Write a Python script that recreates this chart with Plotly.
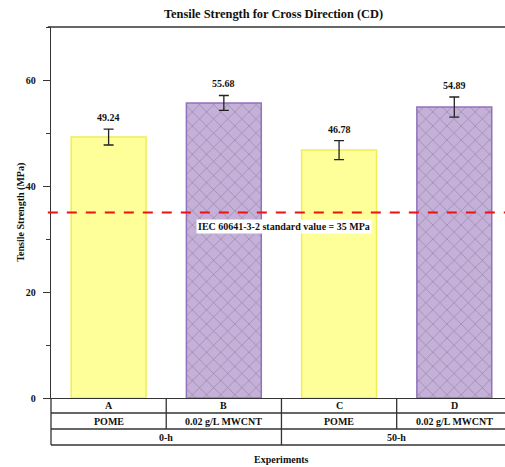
import plotly.graph_objects as go

# Tensile strength (CD) per experiment
codes = ["A", "B", "C", "D"]
materials = ["POME", "0.02 g/L MWCNT", "POME", "0.02 g/L MWCNT"]
ages = ["0-h", "50-h"]
strength = [49.24, 55.68, 46.78, 54.89]
strength_err = [1.5, 1.4, 1.8, 1.9]
standard_value = 35

FONT = "Liberation Serif"
AXIS = "#333333"
YELLOW = "#FFFF99"
YELLOW_EDGE = "#EEEE55"
PURPLE = "#C4B0D8"
PURPLE_HATCH = "#9C84C2"
PURPLE_EDGE = "#9272BC"

x_pos = list(range(len(codes)))
x_lo, x_hi = -0.5, 3.44

def px(xd):
    return (xd - x_lo) / (x_hi - x_lo)

is_cnt = ["MWCNT" in m for m in materials]

fig = go.Figure()
fig.add_trace(go.Bar(
    x=x_pos, y=strength, width=0.65,
    marker=dict(
        color=[PURPLE if c else YELLOW for c in is_cnt],
        line=dict(color=[PURPLE_EDGE if c else YELLOW_EDGE for c in is_cnt], width=1.5),
        pattern=dict(
            shape=["x" if c else "" for c in is_cnt],
            fgcolor=PURPLE_HATCH,
            bgcolor=[PURPLE if c else YELLOW for c in is_cnt],
            size=10, solidity=0.1,
        ),
    ),
    error_y=dict(type="data", array=strength_err, color="#222222", thickness=1.3, width=5),
    showlegend=False,
))

annotations = []
# value labels above the error bars
for x, v, e in zip(x_pos, strength, strength_err):
    annotations.append(dict(
        x=x, y=v + e, xref="x", yref="y", text=f"{v:.2f}", showarrow=False,
        xanchor="center", yanchor="bottom", yshift=4,
        font=dict(family=FONT, size=10, color="#111", weight="bold"),
    ))

# standard value label
annotations.append(dict(
    x=1.52, y=32.3, xref="x", yref="y", showarrow=False,
    xanchor="center", yanchor="middle",
    text=f"IEC 60641-3-2 standard value = {standard_value} MPa",
    bgcolor="white", borderpad=1,
    font=dict(family=FONT, size=10, color="#111", weight="bold"),
))

# table rows below the axis (paper coordinates)
row_edges = [0.0, -0.0404, -0.0836, -0.1267]
row_mid = [(row_edges[i] + row_edges[i + 1]) / 2 for i in range(3)]
tfont = dict(family=FONT, size=10, color="#111", weight="bold")
cell = dict(showarrow=False, font=tfont, xanchor="center", yanchor="middle")
for x, c, m in zip(x_pos, codes, materials):
    annotations.append(dict(x=x, y=row_mid[0], xref="x", yref="paper", text=c, **cell))
    annotations.append(dict(x=x, y=row_mid[1], xref="x", yref="paper", text=m, **cell))
for i, a in enumerate(ages):
    annotations.append(dict(x=2 * i + 0.5, y=row_mid[2], xref="x", yref="paper", text=a, **cell))
annotations.append(dict(x=px(1.5), y=-0.167, xref="paper", yref="paper",
                        text="Experiments", **cell))
annotations.append(dict(x=-0.068, y=0.5, xref="paper", yref="paper", textangle=-90,
                        text="Tensile Strength (MPa)", **cell))

shapes = []
line = dict(color=AXIS, width=1.3)
for yv in row_edges[1:]:
    shapes.append(dict(type="line", xref="paper", yref="paper", x0=0, x1=1, y0=yv, y1=yv, line=line))
# left axis extension down the table
shapes.append(dict(type="line", xref="paper", yref="paper", x0=0, x1=0, y0=0, y1=row_edges[-1], line=line))
# column dividers
for xd in [0.5, 1.5, 2.5]:
    shapes.append(dict(type="line", xref="paper", yref="paper", x0=px(xd), x1=px(xd),
                       y0=0, y1=row_edges[2], line=line))
shapes.append(dict(type="line", xref="paper", yref="paper", x0=px(1.5), x1=px(1.5),
                   y0=row_edges[2], y1=row_edges[3], line=line))
# top frame
shapes.append(dict(type="line", xref="paper", yref="paper", x0=-0.007, x1=1, y0=1, y1=1, line=line))
# standard value reference line
shapes.append(dict(type="line", xref="paper", yref="y", x0=-0.007, x1=1,
                   y0=standard_value, y1=standard_value,
                   line=dict(color="#EE1111", width=2, dash="10px,9px")))

fig.update_layout(
    width=505, height=467,
    margin=dict(l=51, r=0, t=27, b=69),
    paper_bgcolor="white", plot_bgcolor="white",
    title=dict(text="Tensile Strength for Cross Direction (CD)", x=0.5416, xref="container",
               xanchor="center", y=1 - 14 / 467, yref="container", yanchor="middle",
               font=dict(family=FONT, size=12.4, color="#111", weight="bold")),
    xaxis=dict(range=[x_lo, x_hi], showticklabels=False, ticks="", showgrid=False,
               zeroline=False, showline=True, linecolor=AXIS, linewidth=1.3),
    yaxis=dict(range=[0, 70], dtick=20, tick0=0, ticks="outside", ticklen=7, tickwidth=1.3,
               tickcolor=AXIS, showgrid=False, zeroline=False, showline=True,
               linecolor=AXIS, linewidth=1.3, ticklabelstandoff=5,
               tickfont=dict(family=FONT, size=10, color="#111", weight="bold"),
               minor=dict(dtick=10, ticks="outside", ticklen=4, tickcolor=AXIS, tickwidth=1.3)),
    annotations=annotations,
    shapes=shapes,
)

fig.write_html("out.html")
